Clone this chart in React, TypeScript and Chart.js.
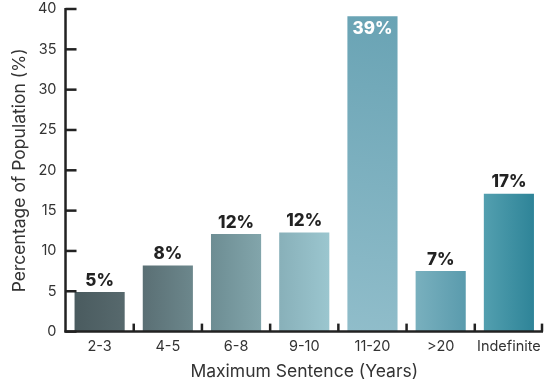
import React, { useEffect, useRef } from "react";
import { Chart, registerables } from "chart.js";

Chart.register(...registerables);

const categories = ["2-3", "4-5", "6-8", "9-10", "11-20", ">20", "Indefinite"];
const values = [4.9, 8.2, 12.1, 12.3, 39.1, 7.5, 17.1];
const valueLabels = ["5%", "8%", "12%", "12%", "39%", "7%", "17%"];
const yTicks = [0, 5, 10, 15, 20, 25, 30, 35, 40];

const gradStart = ["#4a5b5f", "#5a6f74", "#6d8d93", "#88b0b9", "#90bdca", "#79b0be", "#539faf"];
const gradEnd = ["#57696d", "#6c878c", "#82a5ab", "#9bc6cf", "#69a3b4", "#5a9bad", "#2e8498"];

const FONT = "Inter, 'Open Sans', sans-serif";
const AXIS = "#222";

const axesPlugin = {
  id: "customAxes",
  afterDatasetsDraw(chart: any) {
    const { ctx, chartArea, scales } = chart;
    const y = scales.y;
    ctx.save();
    ctx.strokeStyle = AXIS;
    ctx.lineWidth = 2.5;
    ctx.lineCap = "butt";
    ctx.beginPath();
    ctx.moveTo(chartArea.left, chartArea.top - 1);
    ctx.lineTo(chartArea.left, chartArea.bottom + 1);
    ctx.stroke();
    ctx.beginPath();
    ctx.moveTo(chartArea.left - 1, chartArea.bottom);
    ctx.lineTo(chartArea.right, chartArea.bottom);
    ctx.stroke();
    yTicks.forEach((v) => {
      const py = y.getPixelForValue(v);
      ctx.beginPath();
      ctx.moveTo(chartArea.left, py);
      ctx.lineTo(chartArea.left + 11, py);
      ctx.stroke();
    });
    const step = (chartArea.right - chartArea.left) / categories.length;
    for (let i = 1; i <= categories.length; i++) {
      const px = chartArea.left + step * i - (i === categories.length ? 1 : 0);
      ctx.beginPath();
      ctx.moveTo(px, chartArea.bottom);
      ctx.lineTo(px, chartArea.bottom - 8);
      ctx.stroke();
    }
    ctx.font = `800 17px ${FONT}`;
    ctx.textAlign = "center";
    const meta = chart.getDatasetMeta(0);
    meta.data.forEach((bar: any, i: number) => {
      const label = valueLabels[i];
      if (values[i] > 30) {
        ctx.fillStyle = "#ffffff";
        ctx.textBaseline = "top";
        ctx.fillText(label, bar.x, bar.y + 4);
      } else {
        ctx.fillStyle = "#222";
        ctx.textBaseline = "bottom";
        ctx.fillText(label, bar.x, bar.y - 3);
      }
    });
    ctx.restore();
  },
};

export default function App() {
  const ref = useRef<HTMLCanvasElement | null>(null);

  useEffect(() => {
    document.body.style.margin = "0";
    const canvas = ref.current;
    if (!canvas) return;
    const chart = new Chart(canvas, {
      type: "bar",
      data: {
        labels: categories,
        datasets: [
          {
            data: values,
            categoryPercentage: 1,
            barPercentage: 0.735,
            backgroundColor: (c: any) => {
              const chart = c.chart;
              const xs = chart.scales.x;
              const ys = chart.scales.y;
              const i = c.dataIndex;
              if (!xs || !ys || i === undefined || !chart.chartArea) return gradStart[i ?? 0];
              const cx = xs.getPixelForValue(i);
              const w = (xs.width / categories.length) * 0.735;
              const top = ys.getPixelForValue(values[i]);
              const bottom = ys.getPixelForValue(0);
              const diag = i === 4;
              const g = chart.ctx.createLinearGradient(cx - w / 2, diag ? bottom : top, cx + w / 2, top);
              g.addColorStop(0, gradStart[i]);
              g.addColorStop(1, gradEnd[i]);
              return g;
            },
            borderWidth: 0,
          },
        ],
      },
      options: {
        animation: false,
        responsive: false,
        maintainAspectRatio: false,
        layout: { padding: { top: 0, right: 6, bottom: 5, left: 9 } },
        plugins: {
          legend: { display: false },
          tooltip: { enabled: false },
        },
        scales: {
          x: {
            grid: { display: false, drawTicks: false },
            border: { display: false },
            ticks: {
              color: "#333",
              font: { family: FONT, size: 14.5 },
              padding: 6,
              maxRotation: 0,
              minRotation: 0,
              autoSkip: false,
            },
            title: {
              display: true,
              text: "Maximum Sentence (Years)",
              color: "#333",
              font: { family: FONT, size: 17.5 },
              padding: { top: 0, bottom: 0 },
            },
          },
          y: {
            min: 0,
            max: 40,
            afterFit: (s: any) => {
              s.paddingTop = 9;
              s.paddingBottom = 9;
            },
            ticks: {
              stepSize: 5,
              color: "#333",
              font: { family: FONT, size: 14.5 },
              padding: 9,
            },
            grid: { display: false, drawTicks: false },
            border: { display: false },
            title: {
              display: true,
              text: "Percentage of Population (%)",
              color: "#333",
              font: { family: FONT, size: 17.5 },
              padding: { top: 0, bottom: -1 },
            },
          },
        },
      },
      plugins: [axesPlugin],
    });
    return () => chart.destroy();
  }, []);

  return (
    <div style={{ width: 549, height: 387 }}>
      <canvas ref={ref} width={549} height={387} style={{ display: "block" }} />
    </div>
  );
}
